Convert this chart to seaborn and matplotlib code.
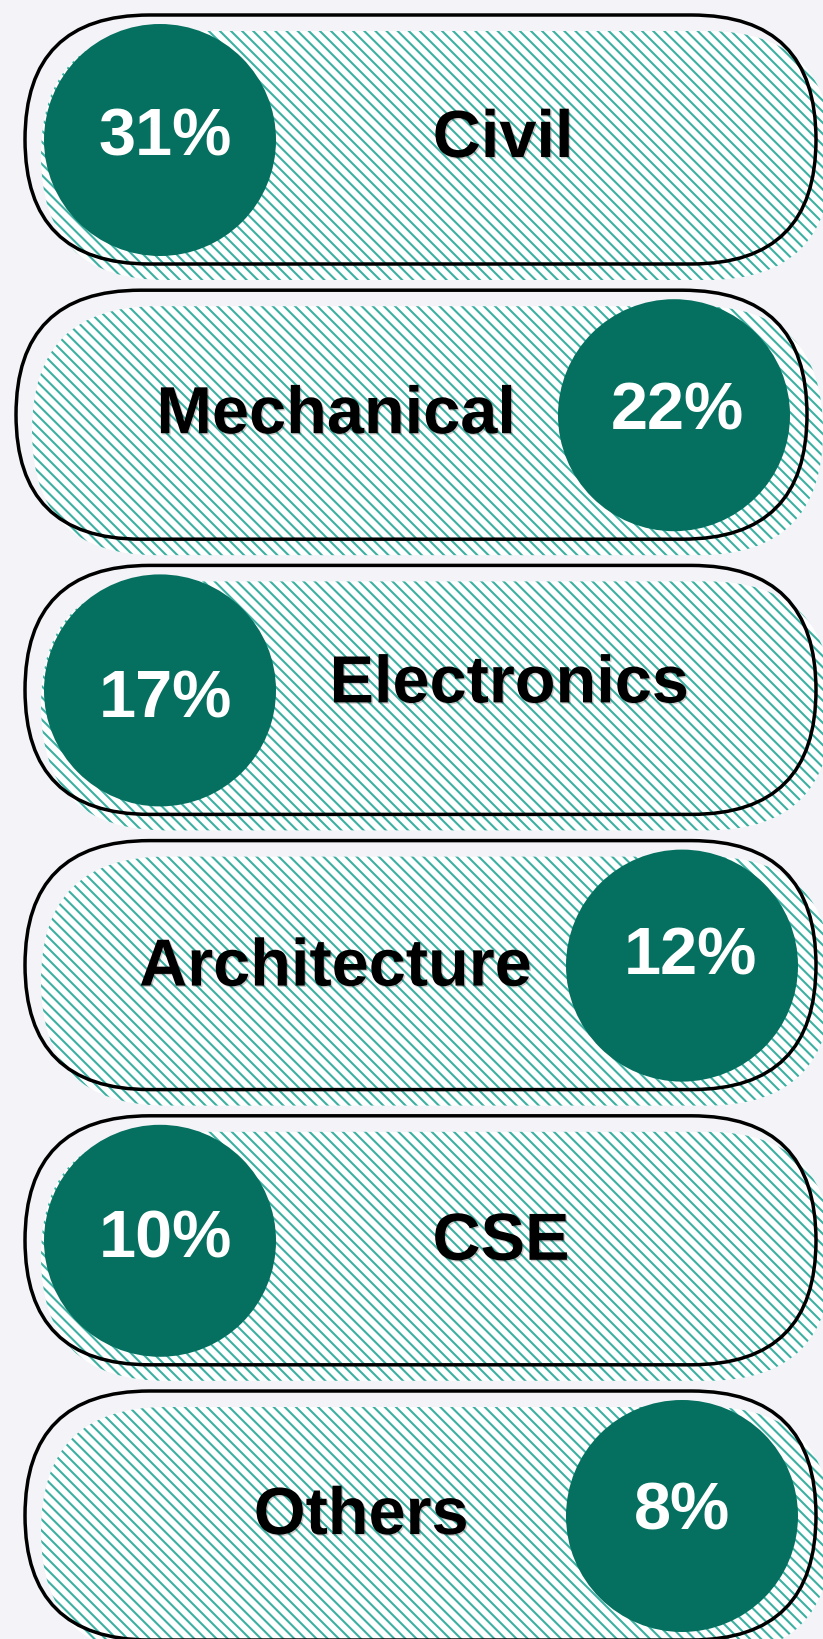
import matplotlib
matplotlib.use("Agg")
import matplotlib.pyplot as plt
import matplotlib.patheffects as pe
from matplotlib.patches import FancyBboxPatch, Circle
import seaborn as sns

# datos del grafico
departamentos = ["Civil", "Mechanical", "Electronics", "Architecture", "CSE", "Others"]
porcentajes = [31, 22, 17, 12, 10, 8]
lado_circulo = ["left", "right", "left", "right", "left", "right"]

# ajustes finos de posicion (px), separados de los datos
label_x = [503, 336, 509, 335, 501, 361]
label_base = [142, 143, 137, 145, 144, 143]
pct_x = [165, 677, 165, 690, 165, 682]
pct_base = [139, 138, 151, 133, 141, 138]
pill_x0 = [25, 16, 25, 25, 25, 25]
circ_x = [160, 674, 160, 682, 160, 682]

sns.set_theme(style="white")
plt.rcParams["font.family"] = ["Liberation Sans", "DejaVu Sans"]
plt.rcParams["hatch.linewidth"] = 1.5

W, H = 823, 1640
fondo = "#F3F3F8"
verde = "#05705F"
rayas = "#3CB0A2"

fig = plt.figure(figsize=(W / 100, H / 100), dpi=100, facecolor=fondo)
ax = fig.add_axes([0, 0, 1, 1])
ax.set_facecolor(fondo)
ax.set_xlim(0, W)
ax.set_ylim(H, 0)
ax.axis("off")

alto = 249
ancho = 791
paso = 275.2
r_circ = 116

for i, (dep, pct, lado) in enumerate(zip(departamentos, porcentajes, lado_circulo)):
    top = 16 + i * paso
    x0 = pill_x0[i]

    # pastilla rayada (sombra)
    sombra = FancyBboxPatch((x0 + 16, top + 16), ancho, alto,
                            boxstyle=f"round,pad=0,rounding_size={alto / 2}",
                            facecolor="white", edgecolor=rayas, linewidth=0,
                            hatch="\\\\\\", zorder=1)
    ax.add_patch(sombra)

    # contorno negro
    borde = FancyBboxPatch((x0, top), ancho, alto,
                           boxstyle=f"round,pad=0,rounding_size={alto / 2}",
                           facecolor="none", edgecolor="black", linewidth=2.5,
                           zorder=2)
    ax.add_patch(borde)

    ax.add_patch(Circle((circ_x[i], top + 125), r_circ, facecolor=verde,
                        edgecolor="none", zorder=3))

    ax.text(pct_x[i], top + pct_base[i], f"{pct}%", color="white",
            fontsize=48, fontweight="bold", ha="center", va="baseline",
            zorder=4)
    ax.text(label_x[i], top + label_base[i], dep, color="black",
            fontsize=48, fontweight="bold", ha="center", va="baseline",
            zorder=4,
            path_effects=[pe.SimplePatchShadow(offset=(1, -1), alpha=0.2),
                          pe.Normal()])

fig.savefig("out.png", dpi=100, facecolor=fondo)
